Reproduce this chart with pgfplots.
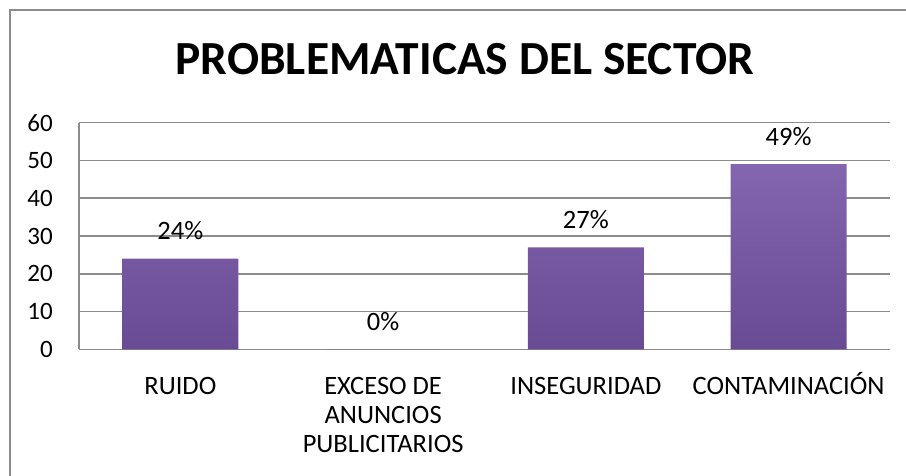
\documentclass[border=0pt]{standalone}
\usepackage{pgfplots}
\pgfplotsset{compat=1.18}
\usepackage{fontspec}
\setmainfont{Carlito}
\definecolor{gridgray}{HTML}{8C8C8C}
\definecolor{bartop}{HTML}{8465B0}
\definecolor{barbot}{HTML}{684B93}
\begin{document}
\begin{tikzpicture}[x=1pt,y=1pt]
\useasboundingbox (0,0) rectangle (906,476);
\draw[gridgray, line width=1.5pt] (10,-5) -- (10,466) -- (911,466);
\node[anchor=base, font=\fontsize{47.5}{56}\selectfont\bfseries] at (465,401) {PROBLEMATICAS DEL SECTOR};
\begin{axis}[
  at={(79pt,126.7pt)}, anchor=south west,
  scale only axis, width=811pt, height=226.6pt,
  ybar, bar width=116pt,
  xmin=-0.5, xmax=3.5, ymin=0, ymax=60,
  enlarge x limits=false,
  ytick={0,10,...,60},
  xtick=data,
  xticklabels={\vphantom{Ó}RUIDO,{\vphantom{Ó}EXCESO DE\\ANUNCIOS\\PUBLICITARIOS},\vphantom{Ó}INSEGURIDAD,CONTAMINACIÓN},
  axis x line*=bottom, axis y line*=left,
  axis line style={gridgray, line width=1.5pt, -},
  ymajorgrids, grid style={gridgray, line width=1.5pt},
  major tick length=0pt, tick style={draw=none},
  /pgf/number format/assume math mode=true,
  yticklabel style={font=\fontsize{25}{29}\selectfont, anchor=east, inner sep=0pt, xshift=-26pt},
  xticklabel style={font=\fontsize{26.5}{29}\selectfont, align=center, anchor=north, inner sep=0pt, yshift=-23pt},
  nodes near coords={\pgfmathprintnumber{\pgfplotspointmeta}\%},
  nodes near coords style={font=\fontsize{26.5}{30}\selectfont, anchor=base, inner sep=0pt, yshift=19pt},
  clip=false,
]
\addplot[draw=none, top color=bartop, bottom color=barbot] coordinates {(0,24) (1,0) (2,27) (3,49)};
\end{axis}
\end{tikzpicture}
\end{document}
